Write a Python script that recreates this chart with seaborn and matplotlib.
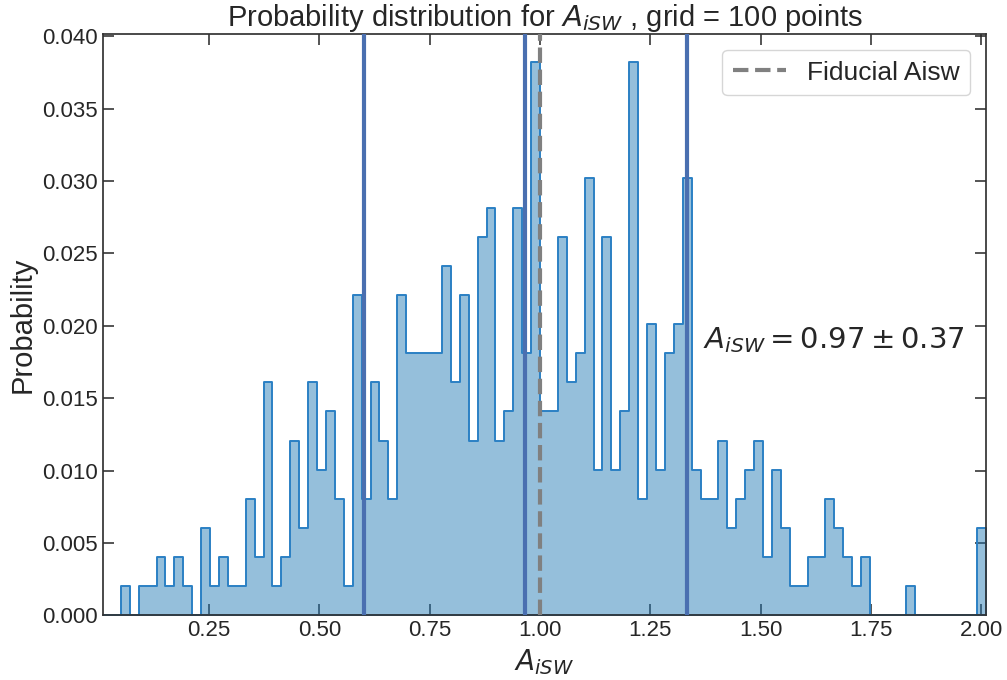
import numpy as np
import pandas as pd
import matplotlib
matplotlib.use("Agg")
import matplotlib.pyplot as plt
import seaborn as sns

# Posterior for A_iSW sampled on a 100-point grid over [0, 2]
grid = np.linspace(0.0, 2.0, 100)
step = grid[1] - grid[0]

# Sample counts for grid points 1..99 (grid point 0 is empty)
counts = [
    0, 0, 1, 0, 1, 1, 2, 1, 2, 1,
    0, 3, 1, 2, 1, 1, 4, 2, 8, 1,
    2, 6, 3, 8, 5, 7, 4, 1, 11, 4,
    8, 6, 4, 11, 9, 9, 9, 9, 12, 8,
    11, 6, 13, 14, 6, 7, 14, 9, 19, 7,
    7, 13, 8, 9, 15, 5, 13, 5, 7, 19,
    4, 10, 5, 9, 10, 15, 5, 4, 4, 6,
    3, 4, 5, 6, 2, 5, 3, 1, 1, 2,
    2, 4, 3, 2, 1, 2, 0, 0, 0, 0,
    1, 0, 0, 0, 0, 0, 0, 0, 3,
]
n_samples = 497

# Summary statistics of the posterior (shown rounded in the annotation)
aisw_mean = 0.967
aisw_sigma = 0.366
aisw_fiducial = 1.0

centers = grid[1:]
probability = np.array(counts) / n_samples
edges = np.append(centers - step / 2, centers[-1] + step / 2)
df = pd.DataFrame({"Aisw": centers, "prob": probability})

sns.set_theme(style="ticks")
plt.rcParams["font.family"] = ["Liberation Sans", "DejaVu Sans"]
plt.rcParams["mathtext.fontset"] = "dejavusans"
plt.rcParams["xtick.direction"] = "in"
plt.rcParams["ytick.direction"] = "in"
plt.rcParams["xtick.top"] = True
plt.rcParams["ytick.right"] = True

fig = plt.figure(figsize=(10.07, 6.8), dpi=100)
ax = fig.add_axes([0.1023, 0.0951, 0.8768, 0.8545])

sns.histplot(
    data=df, x="Aisw", weights="prob", bins=[float(e) for e in edges],
    element="step", fill=True,
    facecolor=(0.122, 0.467, 0.706, 0.47),
    edgecolor=(0.17, 0.50, 0.77, 1.0),
    linewidth=1.4, ax=ax,
)

for v in (aisw_mean - aisw_sigma, aisw_mean, aisw_mean + aisw_sigma):
    ax.axvline(v, color="#4a6fb0", lw=3, zorder=3)
ax.axvline(aisw_fiducial, color="grey", lw=3, ls="--", zorder=4,
           label="Fiducial Aisw")

ax.text(1.37, 0.019,
        r"$A_{iSW} = %.2f \pm %.2f$" % (aisw_mean, aisw_sigma),
        fontsize=21, va="center", ha="left", color=".15")

ax.set_xlim(edges[0], edges[-1])
ax.set_ylim(0, probability.max() * 1.05)
ax.set_title("Probability distribution for $A_{iSW}$ , grid = 100 points",
             fontsize=21, pad=4)
ax.set_xlabel("$A_{iSW}$", fontsize=20)
ax.set_ylabel("Probability", fontsize=21)
ax.tick_params(labelsize=16, length=8, width=1.1)
for sp in ax.spines.values():
    sp.set_color(".2")
ax.legend(loc="upper right", fontsize=19, borderaxespad=0.6)

fig.savefig("out.png", dpi=100)
